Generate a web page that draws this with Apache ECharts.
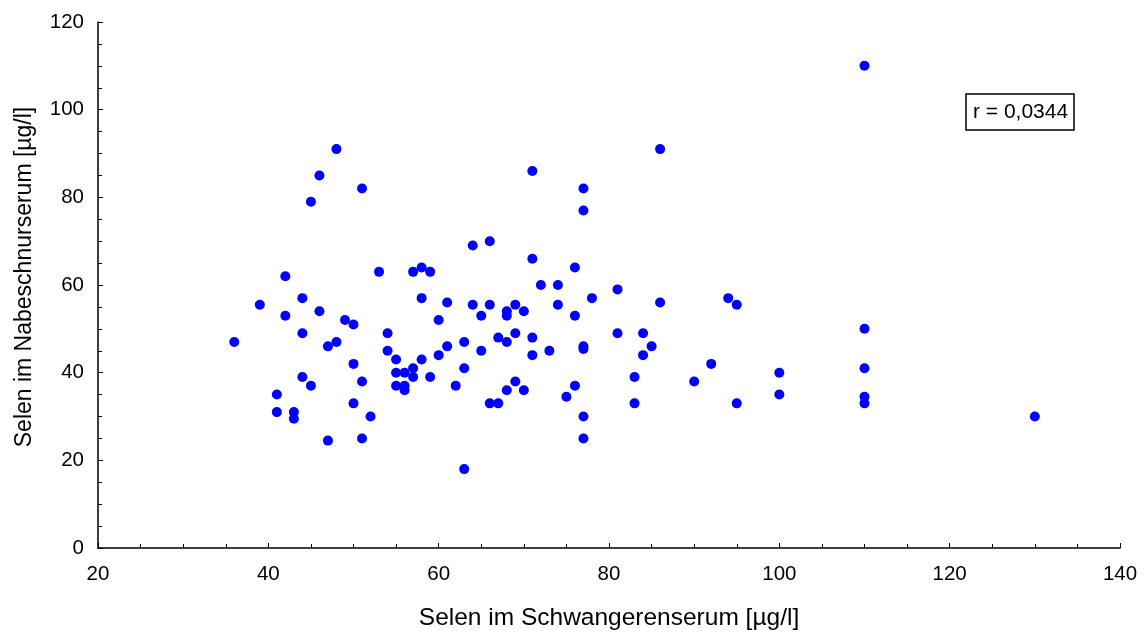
<!DOCTYPE html>
<html>
<head>
<meta charset="utf-8">
<script src="https://cdn.jsdelivr.net/npm/echarts@6/dist/echarts.min.js"></script>
<style>
html,body{margin:0;padding:0;background:#fff;}
#chart{width:1145px;height:632px;}
</style>
</head>
<body>
<div id="chart"></div>
<script>
// Selen im Schwangerenserum [µg/l]
const xValues = [
  48, 46, 51, 45, 42, 53, 57, 58, 59, 44, 39, 58, 61, 42, 46, 49, 50, 60, 44, 54,
  36, 47, 48, 61, 54, 55, 58, 60, 50, 57, 55, 56, 57, 59, 44, 51, 45, 55, 56, 56,
  62, 41, 41, 43, 43, 50, 52, 47, 51, 63,
  86, 71, 77, 77, 64, 66, 71, 76, 72, 74, 81, 78, 86, 64, 66, 69, 74, 65, 68, 68,
  70, 76, 81, 84, 85, 84, 63, 65, 67, 68, 69, 71, 71, 73, 77, 77, 63, 69, 68, 70,
  76, 75, 83, 90, 66, 67, 83, 77, 77,
  110, 94, 95, 110, 92, 100, 100, 95, 110, 110, 110, 130
];
// Selen im Nabeschnurserum [µg/l]
const yValues = [
  91, 85, 82, 79, 62, 63, 63, 64, 63, 57, 55.5, 57, 56, 53, 54, 52, 51, 52, 49, 49,
  47, 46, 47, 46, 45, 43, 43, 44, 42, 41, 40, 40, 39, 39, 39, 38, 37, 37, 37, 36,
  37, 35, 31, 31, 29.5, 33, 30, 24.5, 25, 18,
  91, 86, 82, 77, 69, 70, 66, 64, 60, 60, 59, 57, 56, 55.5, 55.5, 55.5, 55.5, 53, 54, 53,
  54, 53, 49, 49, 46, 44, 47, 45, 48, 47, 49, 48, 44, 45, 46, 45.4, 41, 38, 36, 36,
  37, 34.5, 39, 38, 33, 33, 33, 30, 25,
  110, 57, 55.5, 50, 42, 40, 35, 33, 41, 34.5, 33, 30
];
const xTicks = [20, 40, 60, 80, 100, 120, 140];
const yTicks = [0, 20, 40, 60, 80, 100, 120];
const rLabel = 'r = 0,0344';
const xTitle = 'Selen im Schwangerenserum [µg/l]';
const yTitle = 'Selen im Nabeschnurserum [µg/l]';

const points = xValues.map((x, i) => [x, yValues[i]]);
const font = '"Liberation Sans", Arial, sans-serif';

const chart = echarts.init(document.getElementById('chart'), null, {renderer: 'canvas'});
chart.setOption({
  animation: false,
  backgroundColor: '#ffffff',
  title: {
    text: rLabel,
    left: 966,
    top: 94,
    padding: [8, 6, 7, 7],
    borderColor: '#000',
    borderWidth: 1.5,
    textStyle: {fontFamily: font, fontSize: 21, fontWeight: 'normal', color: '#000'}
  },
  grid: {left: 98, right: 25, top: 22, bottom: 84, containLabel: false, outerBoundsMode: 'none'},
  xAxis: {
    type: 'value',
    min: xTicks[0],
    max: xTicks[xTicks.length - 1],
    interval: 20,
    name: xTitle,
    nameLocation: 'middle',
    nameGap: 58,
    nameTextStyle: {fontFamily: font, fontSize: 24.5, color: '#000'},
    axisLine: {show: true, onZero: false, lineStyle: {color: '#000', width: 1.5}},
    axisTick: {show: true, inside: true, length: 5, lineStyle: {color: '#000'}},
    minorTick: {show: true, splitNumber: 4, length: 4, lineStyle: {color: '#000'}},
    axisLabel: {fontFamily: font, fontSize: 20.5, color: '#000', margin: 16},
    splitLine: {show: false}
  },
  yAxis: {
    type: 'value',
    min: yTicks[0],
    max: yTicks[yTicks.length - 1],
    interval: 20,
    name: yTitle,
    nameLocation: 'middle',
    nameGap: 62,
    nameTextStyle: {fontFamily: font, fontSize: 23, color: '#000', padding: [0, 0, 0, 16]},
    axisLine: {show: true, onZero: false, lineStyle: {color: '#000', width: 1.5}},
    axisTick: {show: true, inside: true, length: 5, lineStyle: {color: '#000'}},
    minorTick: {show: true, splitNumber: 4, length: 4, lineStyle: {color: '#000'}},
    axisLabel: {fontFamily: font, fontSize: 20.5, color: '#000', margin: 14},
    splitLine: {show: false}
  },
  series: [{
    type: 'scatter',
    data: points,
    symbol: 'circle',
    symbolSize: 10,
    itemStyle: {color: '#0000ff', opacity: 1}
  }]
});
</script>
</body>
</html>
